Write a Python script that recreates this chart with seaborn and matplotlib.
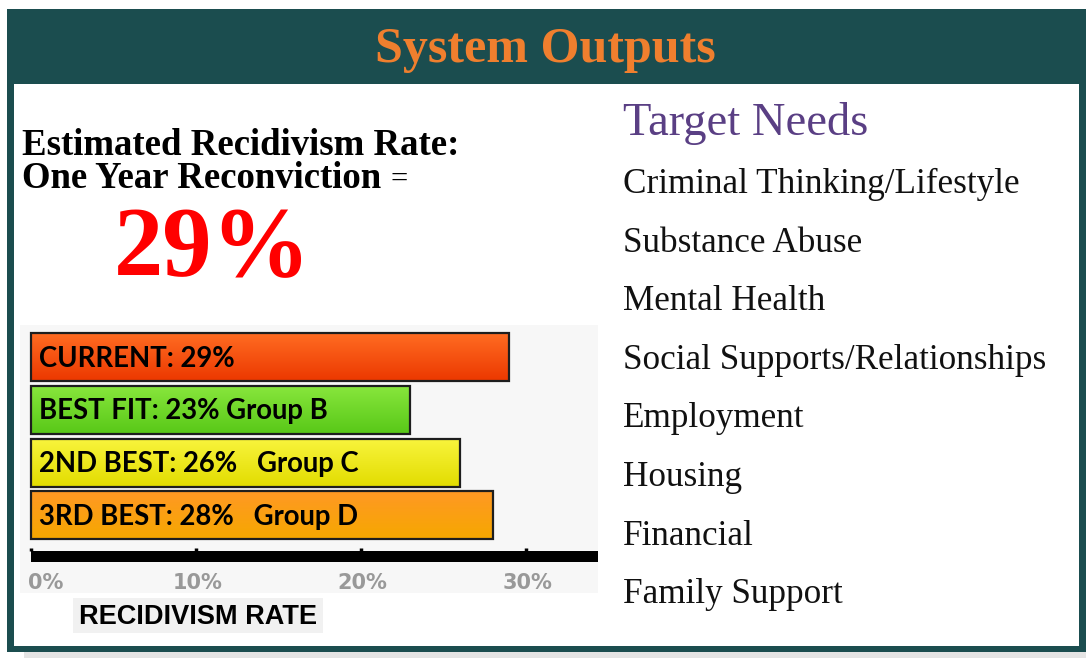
import numpy as np
import pandas as pd
import matplotlib
matplotlib.use("Agg")
import matplotlib.pyplot as plt
import seaborn as sns
from matplotlib.patches import Rectangle

# ---------------- data ----------------
bar_labels = ["CURRENT: 29%", "BEST FIT: 23% Group B",
              "2ND BEST: 26%   Group C", "3RD BEST: 28%   Group D"]
bar_values = [29, 23, 26, 28]
bar_top_colors = ["#ff6c22", "#88e63c", "#f8f43c", "#ff9824"]
bar_bottom_colors = ["#ec3800", "#58c818", "#e2dc00", "#f6a800"]
tick_values = [0, 10, 20, 30]
tick_labels = ["0%", "10%", "20%", "30%"]
needs = ["Criminal Thinking/Lifestyle", "Substance Abuse", "Mental Health",
         "Social Supports/Relationships", "Employment", "Housing",
         "Financial", "Family Support"]
headline_rate = "29%"

W, H = 1086, 658
sns.set_theme(style="white")
plt.rcParams["font.family"] = ["DejaVu Sans"]

fig = plt.figure(figsize=(W / 100, H / 100), dpi=100)
fig.patch.set_facecolor("white")

# background axes in pixel coords
bg = fig.add_axes([0, 0, 1, 1])
bg.set_xlim(0, W)
bg.set_ylim(H, 0)
bg.axis("off")

teal = "#1b4d4f"
bg.add_patch(Rectangle((24, 652), W - 24, 6, color="#e4e4e4", lw=0))
bg.add_patch(Rectangle((7, 9), W - 7, 643, color=teal, lw=0))
bg.add_patch(Rectangle((14, 84), 1065, 562, color="white", lw=0))
bg.add_patch(Rectangle((20, 325), 578, 268, color="#f7f7f7", lw=0))
bg.add_patch(Rectangle((73, 598), 250, 35, color="#f1f1f1", lw=0))

serif = ["Liberation Serif", "DejaVu Serif"]
bg.text(545, 62, "System Outputs", color="#f07f2e", fontsize=36,
        fontweight="bold", family=serif, ha="center", va="baseline")

bg.text(22, 155, "Estimated Recidivism Rate:", color="black", fontsize=26.5,
        fontweight="bold", family=serif, ha="left", va="baseline")
bg.text(22, 188, "One Year Reconviction", color="black", fontsize=26.5,
        fontweight="bold", family=serif, ha="left", va="baseline")
bg.text(390, 188, "=", color="black", fontsize=22, family=serif,
        ha="left", va="baseline")
bg.text(212, 275, headline_rate, color="#ff0000", fontsize=71,
        fontweight="bold", family=serif, ha="center", va="baseline")

bg.text(623, 135, "Target Needs", color="#5a3f84", fontsize=33.5,
        family=serif, ha="left", va="baseline")
for i, item in enumerate(needs):
    bg.text(623, 193 + i * 58.6, item, color="#111111", fontsize=25.3,
            family=serif, ha="left", va="baseline")

bg.text(198, 617, "RECIDIVISM RATE", color="black", fontsize=19.5,
        fontweight="bold", family=["Liberation Sans", "DejaVu Sans"],
        ha="center", va="center")

# ---------------- bar chart ----------------
px_per_pct = 16.5
x0_px = 31
ax_left, ax_right, ax_top, ax_bot = 20, 598, 325, 592
row_h = 52.8
row0 = 357
ax = fig.add_axes([ax_left / W, 1 - ax_bot / H,
                   (ax_right - ax_left) / W, (ax_bot - ax_top) / H])
ax.set_facecolor("none")

df = pd.DataFrame({"label": bar_labels, "value": bar_values})
sns.barplot(data=df, x="value", y="label", hue="label",
            palette=bar_top_colors, orient="h", width=48 / row_h,
            edgecolor="#1e1e1e", linewidth=1.6, legend=False, ax=ax)

ax.set_xlim((ax_left - x0_px) / px_per_pct, (ax_right - x0_px) / px_per_pct)
ax.set_ylim((ax_bot - row0) / row_h, (ax_top - row0) / row_h)

# gradient fills clipped to the bars
for p, ctop, cbot in zip(ax.patches, bar_top_colors, bar_bottom_colors):
    x, y = p.get_x(), p.get_y()
    w, h = p.get_width(), p.get_height()
    c1 = np.array(matplotlib.colors.to_rgb(ctop))
    c2 = np.array(matplotlib.colors.to_rgb(cbot))
    t = np.linspace(0, 1, 64)[:, None]
    grad = (c1 * (1 - t) + c2 * t)[:, None, :]
    im = ax.imshow(grad, extent=[x, x + w, y + h, y], aspect="auto",
                   interpolation="bilinear", zorder=p.get_zorder() - 0.1)
    im.set_clip_path(p)
    p.set_facecolor("none")

label_font = ["Lato", "Open Sans", "DejaVu Sans"]
for i, lab in enumerate(bar_labels):
    ax.text(0.5, i + 0.03, lab, color="black", fontsize=19.8,
            fontweight="bold", family=label_font, ha="left", va="center",
            zorder=5)

# thick black axis bar with small ticks
xl = ax.get_xlim()
ax.axhspan(3.68, 3.89, xmin=(0 - xl[0]) / (xl[1] - xl[0]), xmax=1,
           color="black", lw=0, zorder=3)
for v in tick_values:
    ax.plot([v, v], [3.62, 3.68], color="black", lw=2.5, zorder=3,
            solid_capstyle="butt")
for v, s in zip(tick_values, tick_labels):
    ax.text(v + (0.9 if v == 0 else 0.1), 4.28, s, color="#999999",
            fontsize=15, fontweight="bold",
            family=["DejaVu Sans"], ha="center", va="center")

ax.set_xlabel("")
ax.set_ylabel("")
ax.set_xticks([])
ax.set_yticks([])
for s in ax.spines.values():
    s.set_visible(False)

fig.savefig("out.png", dpi=100, facecolor="white")
